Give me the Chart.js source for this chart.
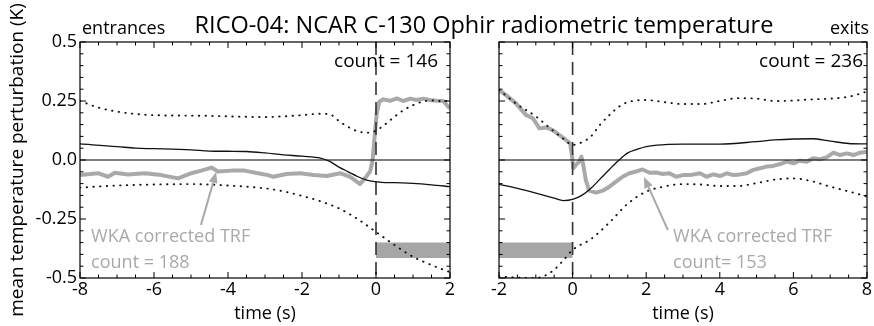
<!DOCTYPE html>
<html><head><meta charset="utf-8">
<script src="https://cdn.jsdelivr.net/npm/chart.js@4.4.1/dist/chart.umd.min.js"></script>
<style>
html,body{margin:0;padding:0;background:#fff;}
#wrap{position:relative;width:874px;height:326px;overflow:hidden;background:#fff;}
canvas{position:absolute;left:0;top:0;}
</style></head><body>
<div id="wrap">
<canvas id="c1" width="874" height="326"></canvas>
<canvas id="c2" width="874" height="326"></canvas>
</div>
<script>
// ---------- text ----------
const titleText = 'RICO-04: NCAR C-130 Ophir radiometric temperature';
const leftTag = 'entrances';
const rightTag = 'exits';
const yAxisTitle = 'mean temperature perturbation (K)';
const xAxisTitle = 'time (s)';
const leftCount = 'count = 146';
const rightCount = 'count = 236';
const leftNote = ['WKA corrected TRF', 'count = 188'];
const rightNote = ['WKA corrected TRF', 'count= 153'];

// ---------- ticks ----------
const leftXTicks = [-8, -6, -4, -2, 0, 2];
const leftXTickLabels = ['-8', '-6', '-4', '-2', '0', '2'];
const rightXTicks = [-2, 0, 2, 4, 6, 8];
const rightXTickLabels = ['-2', '0', '2', '4', '6', '8'];
const yTicks = [-0.5, -0.25, 0, 0.25, 0.5];
const yTickLabels = ['-0.5', '-0.25', '0.0', '0.25', '0.5'];

// ---------- left panel (entrances) ----------
const leftUpperT = [-8, -7.5, -7, -6.5, -6, -5, -4.5, -4, -3.5, -3, -2.5, -2, -1.5, -1.2, -1, -0.75, -0.5, -0.25, 0, 0.25, 0.5, 0.75, 1, 1.25, 1.5, 1.75, 2];
const leftUpperV = [0.25, 0.222, 0.205, 0.195, 0.19, 0.188, 0.187, 0.185, 0.183, 0.182, 0.185, 0.19, 0.196, 0.19, 0.165, 0.14, 0.122, 0.116, 0.124, 0.152, 0.183, 0.212, 0.232, 0.247, 0.252, 0.25, 0.25];
const leftMeanT = [-8, -7, -6.5, -6, -5, -4.5, -4, -3.5, -3, -2.5, -2, -1.5, -1.25, -1, -0.75, -0.5, -0.25, 0, 0.25, 0.5, 1, 1.5, 2];
const leftMeanV = [0.068, 0.057, 0.05, 0.048, 0.043, 0.038, 0.037, 0.036, 0.03, 0.022, 0.016, 0.008, -0.006, -0.03, -0.05, -0.07, -0.085, -0.092, -0.096, -0.096, -0.099, -0.105, -0.113];
const leftLowerT = [-8, -7, -6, -5, -4, -3, -2.5, -2, -1.5, -1, -0.5, 0, 0.5, 1, 1.5, 2];
const leftLowerV = [-0.117, -0.108, -0.104, -0.102, -0.108, -0.12, -0.133, -0.152, -0.175, -0.205, -0.25, -0.305, -0.36, -0.41, -0.445, -0.475];
const leftWkaT = [-8, -7.51, -7.24, -7.06, -6.7, -6.25, -5.8, -5.35, -4.99, -4.72, -4.45, -4.27, -3.91, -3.55, -3.19, -2.92, -2.78, -2.42, -2.05, -1.69, -1.33, -0.97, -0.7, -0.52, -0.43, -0.3, -0.16, -0.09, -0.03, 0.02, 0.09, 0.2, 0.38, 0.56, 0.74, 0.92, 1.1, 1.28, 1.46, 1.64, 1.82, 1.95, 2];
const leftWkaV = [-0.064, -0.056, -0.071, -0.054, -0.061, -0.056, -0.064, -0.078, -0.056, -0.045, -0.032, -0.049, -0.045, -0.045, -0.056, -0.064, -0.071, -0.059, -0.056, -0.064, -0.068, -0.056, -0.071, -0.092, -0.102, -0.078, -0.049, 0.0, 0.113, 0.198, 0.247, 0.257, 0.251, 0.261, 0.25, 0.26, 0.254, 0.26, 0.254, 0.251, 0.25, 0.226, 0.22];
const leftBandT = [0, 2];

// ---------- right panel (exits) ----------
const rightUpperT = [-2, -1.5, -1, -0.5, -0.25, 0, 0.25, 0.5, 0.75, 1, 1.25, 1.5, 2, 2.5, 3, 3.5, 4, 4.5, 5, 5.5, 6, 6.5, 7, 7.5, 8];
const rightUpperV = [0.297, 0.235, 0.185, 0.12, 0.09, 0.064, 0.075, 0.1, 0.15, 0.19, 0.225, 0.245, 0.254, 0.245, 0.237, 0.237, 0.25, 0.262, 0.26, 0.25, 0.252, 0.257, 0.26, 0.268, 0.29];
const rightMeanT = [-2, -1.5, -1, -0.5, -0.25, 0, 0.25, 0.5, 0.75, 1, 1.25, 1.5, 1.75, 2, 2.5, 3, 4, 5, 5.5, 6, 6.5, 7, 7.5, 8];
const rightMeanV = [-0.103, -0.12, -0.14, -0.162, -0.172, -0.167, -0.15, -0.12, -0.08, -0.04, -0.002, 0.03, 0.045, 0.057, 0.065, 0.067, 0.067, 0.078, 0.085, 0.089, 0.09, 0.08, 0.07, 0.068];
const rightLowerT = [-2, -1.5, -1, -0.75, -0.5, -0.25, 0, 0.5, 1, 1.5, 2, 2.5, 3, 3.5, 4, 4.5, 5, 5.5, 6, 6.5, 7, 7.5, 8];
const rightLowerV = [-0.494, -0.498, -0.5, -0.49, -0.465, -0.425, -0.381, -0.335, -0.265, -0.185, -0.134, -0.112, -0.102, -0.104, -0.11, -0.11, -0.098, -0.083, -0.078, -0.09, -0.113, -0.133, -0.155];
const rightWkaT = [-2, -1.81, -1.54, -1.27, -1.08, -0.9, -0.72, -0.54, -0.36, -0.18, -0.07, -0.02, 0.02, 0.09, 0.18, 0.24, 0.29, 0.36, 0.45, 0.64, 0.82, 1.0, 1.18, 1.36, 1.54, 1.72, 1.9, 2.09, 2.27, 2.45, 2.63, 2.81, 3.0, 3.19, 3.46, 3.64, 3.82, 4.01, 4.19, 4.37, 4.55, 4.73, 4.91, 5.09, 5.27, 5.45, 5.64, 5.82, 6.0, 6.18, 6.36, 6.54, 6.72, 6.9, 7.09, 7.27, 7.45, 7.63, 7.81, 8];
const rightWkaV = [0.297, 0.275, 0.24, 0.191, 0.177, 0.134, 0.138, 0.127, 0.106, 0.085, 0.071, 0.021, -0.035, -0.021, -0.007, 0.014, -0.021, -0.085, -0.13, -0.138, -0.13, -0.113, -0.092, -0.071, -0.056, -0.049, -0.04, -0.054, -0.053, -0.059, -0.056, -0.071, -0.064, -0.064, -0.056, -0.071, -0.061, -0.068, -0.056, -0.064, -0.061, -0.056, -0.042, -0.035, -0.028, -0.025, -0.017, -0.007, -0.014, -0.003, -0.007, 0.007, 0.003, 0.011, 0.031, 0.021, 0.028, 0.021, 0.031, 0.035];
const rightBandT = [-2, 0];

// shaded band, t=0 marker and annotation anchors (data units)
const bandTop = [-0.35, -0.35];
const bandBottom = [-0.415, -0.415];
const markerT = [0, 0];
const markerV = [0.5, -0.5];
const leftArrow = {from: [-4.73, -0.275], to: [-4.32, -0.051]};
const rightArrow = {from: [2.59, -0.297], to: [1.94, -0.072]};
const leftNoteAt = [-7.7, -0.347];
const rightNoteAt = [2.73, -0.347];

// ---------- helpers ----------
const FONT = "'Open Sans', 'DejaVu Sans', sans-serif";
const GREY = '#a9a9a9';
const pts = (t, v) => t.map((x, i) => ({x, y: v[i]}));

function datasets(p) {
  const dotted = {borderColor: '#111', borderWidth: 1.9, borderDash: [0.4, 6.3], borderCapStyle: 'round', pointRadius: 0, cubicInterpolationMode: 'monotone', order: 1};
  return [
    {data: pts(p.wkaT, p.wkaV), borderColor: GREY, borderWidth: 4, pointRadius: 0, tension: 0, order: 3, borderJoinStyle: 'round'},
    {data: pts(p.meanT, p.meanV), borderColor: '#111', borderWidth: 1.3, pointRadius: 0, cubicInterpolationMode: 'monotone', order: 1},
    Object.assign({data: pts(p.upT, p.upV)}, dotted),
    Object.assign({data: pts(p.loT, p.loV)}, dotted),
    {data: pts(p.xr, [0, 0]), borderColor: '#000', borderWidth: 1.2, pointRadius: 0, order: 2},
    {data: pts(markerT, markerV), borderColor: '#333', borderWidth: 1.6, borderDash: [13, 7], pointRadius: 0, order: 2},
    {data: pts(p.bandT, bandTop), borderWidth: 0, borderColor: 'rgba(0,0,0,0)', backgroundColor: '#a6a6a6', fill: '+1', pointRadius: 0, order: 5},
    {data: pts(p.bandT, bandBottom), borderWidth: 0, borderColor: 'rgba(0,0,0,0)', pointRadius: 0, fill: false, order: 5}
  ];
}

function arrow(ctx, x0, y0, x1, y1) {
  const ang = Math.atan2(y1 - y0, x1 - x0);
  const hl = 11, hw = 4.5;
  const bx = x1 - hl * Math.cos(ang), by = y1 - hl * Math.sin(ang);
  ctx.strokeStyle = GREY; ctx.fillStyle = GREY; ctx.lineWidth = 2;
  ctx.beginPath(); ctx.moveTo(x0, y0); ctx.lineTo(bx, by); ctx.stroke();
  ctx.beginPath();
  ctx.moveTo(x1, y1);
  ctx.lineTo(bx + hw * Math.sin(ang), by - hw * Math.cos(ang));
  ctx.lineTo(bx - hw * Math.sin(ang), by + hw * Math.cos(ang));
  ctx.closePath(); ctx.fill();
}

const frame = {
  id: 'frame',
  afterDraw(chart, args, o) {
    const {ctx, chartArea: a, scales: {x, y}} = chart;
    ctx.save();
    ctx.strokeStyle = '#000'; ctx.lineWidth = 1.2;
    ctx.strokeRect(a.left, a.top, a.right - a.left, a.bottom - a.top);
    ctx.lineWidth = 1;
    ctx.beginPath();
    for (let i = 0; i <= Math.round((x.max - x.min) / 0.5); i++) {
      const v = x.min + i * 0.5;
      const px = x.getPixelForValue(v);
      const len = Math.abs(v % 2) < 1e-6 ? 6 : 3.5;
      ctx.moveTo(px, a.bottom); ctx.lineTo(px, a.bottom - len);
      ctx.moveTo(px, a.top); ctx.lineTo(px, a.top + len);
    }
    for (let i = 0; i <= 20; i++) {
      const v = -0.5 + i * 0.05;
      const py = y.getPixelForValue(v);
      const len = (i % 5 === 0) ? 6 : 3.5;
      ctx.moveTo(a.left, py); ctx.lineTo(a.left + len, py);
      ctx.moveTo(a.right, py); ctx.lineTo(a.right - len, py);
    }
    ctx.stroke();

    // count label
    ctx.font = '19px ' + FONT;
    ctx.textAlign = 'right'; ctx.textBaseline = 'alphabetic';
    ctx.fillStyle = '#000';
    ctx.fillText(o.count, a.right - o.countInset, a.top + 25);

    // WKA annotation
    arrow(ctx, x.getPixelForValue(o.arrow.from[0]), y.getPixelForValue(o.arrow.from[1]),
      x.getPixelForValue(o.arrow.to[0]), y.getPixelForValue(o.arrow.to[1]));
    ctx.font = '18px ' + FONT; ctx.fillStyle = GREY; ctx.textAlign = 'left';
    const nx = x.getPixelForValue(o.noteAt[0]), ny = y.getPixelForValue(o.noteAt[1]);
    ctx.fillText(o.note[0], nx, ny);
    ctx.fillText(o.note[1], nx, ny + 26);

    // headings
    ctx.fillStyle = '#000';
    if (o.title) {
      ctx.font = '23.5px ' + FONT; ctx.textAlign = 'center';
      ctx.fillText(titleText, 484, 33);
    }
    ctx.font = '18px ' + FONT;
    ctx.textAlign = o.tagAlign;
    ctx.fillText(o.tag, o.tagAlign === 'left' ? a.left + 2 : 869, 34);
    ctx.restore();
  }
};

function make(id, p) {
  return new Chart(document.getElementById(id), {
    type: 'line',
    data: {datasets: datasets(p)},
    plugins: [frame],
    options: {
      responsive: false, animation: false, events: [],
      layout: {padding: p.pad},
      plugins: {legend: {display: false}, tooltip: {enabled: false}, frame: p.frame},
      scales: {
        x: {
          type: 'linear', min: p.xr[0], max: p.xr[1],
          afterBuildTicks: s => { s.ticks = p.xTicks.map(v => ({value: v})); },
          afterFit: s => { s.height = 48; },
          grid: {display: false, drawTicks: false, tickLength: 0}, border: {display: false},
          ticks: {font: {family: FONT, size: 18}, color: '#000', padding: 1, maxRotation: 0,
            callback: (v, i) => p.xLabels[i]},
          title: {display: true, text: xAxisTitle, font: {family: FONT, size: 18}, color: '#000', padding: {top: 0, bottom: 1}}
        },
        y: {
          type: 'linear', min: -0.5, max: 0.5, display: p.showY,
          afterBuildTicks: s => { s.ticks = yTicks.map(v => ({value: v})); },
          afterFit: s => { s.width = p.showY ? 80 : 0; },
          grid: {display: false, drawTicks: false, tickLength: 0}, border: {display: false},
          ticks: {font: {family: FONT, size: 18}, color: '#000', padding: 3,
            callback: (v, i) => yTickLabels[i]},
          title: {display: true, text: yAxisTitle, font: {family: FONT, size: 19}, color: '#000', padding: {top: 6, bottom: 0}}
        }
      }
    }
  });
}

make('c1', {
  xr: [-8, 2], xTicks: leftXTicks, xLabels: leftXTickLabels, showY: true,
  upT: leftUpperT, upV: leftUpperV, meanT: leftMeanT, meanV: leftMeanV,
  loT: leftLowerT, loV: leftLowerV, wkaT: leftWkaT, wkaV: leftWkaV, bandT: leftBandT,
  pad: {left: 0, right: 424, top: 42, bottom: 0},
  frame: {count: leftCount, countInset: 12, arrow: leftArrow, noteAt: leftNoteAt, note: leftNote,
    title: true, tag: leftTag, tagAlign: 'left'}
});
make('c2', {
  xr: [-2, 8], xTicks: rightXTicks, xLabels: rightXTickLabels, showY: false,
  upT: rightUpperT, upV: rightUpperV, meanT: rightMeanT, meanV: rightMeanV,
  loT: rightLowerT, loV: rightLowerV, wkaT: rightWkaT, wkaV: rightWkaV, bandT: rightBandT,
  pad: {left: 499, right: 7, top: 42, bottom: 0},
  frame: {count: rightCount, countInset: 4, arrow: rightArrow, noteAt: rightNoteAt, note: rightNote,
    title: false, tag: rightTag, tagAlign: 'right'}
});
</script>
</body></html>
